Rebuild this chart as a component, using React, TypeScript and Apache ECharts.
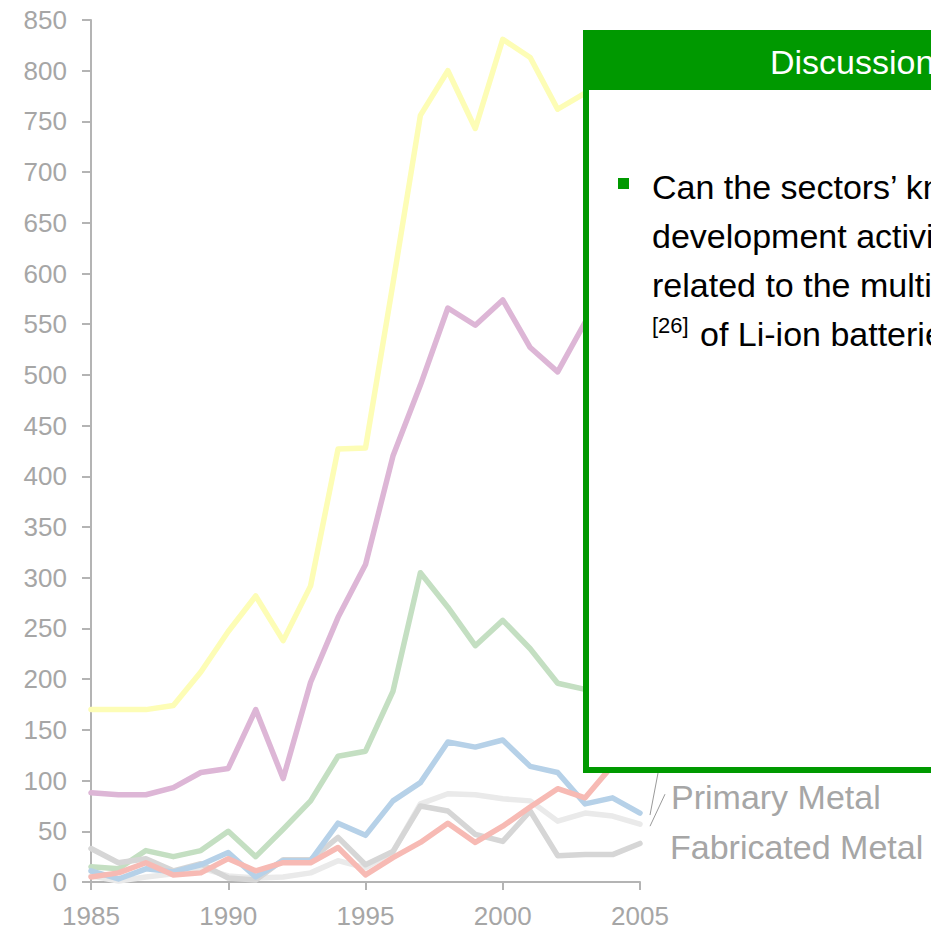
import React, { useEffect, useRef } from "react";
import * as echarts from "echarts";

const years = [1985, 1986, 1987, 1988, 1989, 1990, 1991, 1992, 1993, 1994, 1995, 1996, 1997, 1998, 1999, 2000, 2001, 2002, 2003, 2004, 2005];

// Series values (2004-2005 of the upper series are hidden behind the discussion box; estimated)
const sectorYellow = [170, 170, 170, 174, 207, 247, 282, 238, 292, 427, 428, 590, 756, 800, 743, 831, 813, 762, 778, 800, 790];
const sectorPurple = [88, 86, 86, 93, 108, 112, 170, 102, 197, 261, 313, 420, 490, 566, 549, 574, 527, 503, 552, 600, 590];
const sectorGreen = [15, 13, 31, 25, 31, 50, 25, 52, 80, 124, 129, 188, 305, 271, 233, 258, 230, 196, 190, 185, 180];
const primaryMetal = [6, 1, 5, 8, 14, 6, 4, 5, 9, 21, 14, 30, 77, 87, 86, 82, 80, 60, 68, 65, 57];
const fabricatedMetal = [33, 19, 23, 11, 18, 4, 2, 22, 22, 44, 17, 30, 75, 70, 47, 40, 70, 26, 27, 27, 38];
const sectorBlue = [11, 3, 13, 10, 17, 29, 5, 21, 21, 58, 46, 80, 98, 138, 133, 140, 114, 108, 77, 83, 68];
const sectorRed = [5, 9, 19, 7, 9, 23, 11, 19, 19, 34, 7, 24, 39, 58, 39, 55, 74, 92, 83, 115, 130];

const seriesNames = ["Sector A", "Sector B", "Sector C", "Primary Metal", "Fabricated Metal", "Sector D", "Sector E"];
const seriesValues = [sectorYellow, sectorPurple, sectorGreen, primaryMetal, fabricatedMetal, sectorBlue, sectorRed];
const seriesColors = ["#FDFDB6", "#DDB6D6", "#C4DFC2", "#EAEAEA", "#D6D6D6", "#B6D1E8", "#F7BAB4"];

const endLabels = ["Primary Metal", "Fabricated Metal"];
const discussionTitle = "Discussion";
const discussionLines = ["Can the sectors’ knowledge", "development activities be", "related to the multiple uses"];
const citation = "[26]";
const lastLine = "of Li-ion batteries?";

const FONT = "'Liberation Sans', Arial, sans-serif";
const GREEN = "#009900";
const LABEL_GRAY = "#A6A6A6";

export default function App() {
  const ref = useRef<HTMLDivElement>(null);
  useEffect(() => {
    if (!ref.current) return;
    const chart = echarts.init(ref.current, undefined, { renderer: "svg" });
    const axisLine = { lineStyle: { color: "#B4B4B4", width: 2 } };
    chart.setOption({
      animation: false,
      backgroundColor: "#FFFFFF",
      grid: { left: 91, right: 291, top: 20, bottom: 66 },
      xAxis: {
        type: "value",
        min: 1985,
        max: 2005,
        interval: 5,
        axisLine,
        axisTick: { show: true, length: 8, lineStyle: { color: "#B4B4B4", width: 2 } },
        axisLabel: { color: LABEL_GRAY, fontSize: 26, fontFamily: FONT, margin: 21, formatter: (v: number) => String(v) },
        splitLine: { show: false },
      },
      yAxis: {
        type: "value",
        min: 0,
        max: 850,
        interval: 50,
        axisLine: { show: true, ...axisLine },
        axisTick: { show: true, length: 9, lineStyle: { color: "#B4B4B4", width: 2 } },
        axisLabel: { color: LABEL_GRAY, fontSize: 26, fontFamily: FONT, margin: 24 },
        splitLine: { show: false },
      },
      series: seriesValues.map((vals, i) => ({
        name: seriesNames[i],
        type: "line",
        data: years.map((y, j) => [y, vals[j]]),
        showSymbol: false,
        silent: true,
        z: 2 + i,
        lineStyle: { color: seriesColors[i], width: 5.5, cap: "round", join: "round" },
        itemStyle: { color: seriesColors[i] },
      })),
    });

    const pPrim = chart.convertToPixel({ xAxisIndex: 0, yAxisIndex: 0 }, [2005, primaryMetal[primaryMetal.length - 1]]);
    const pBlue = chart.convertToPixel({ xAxisIndex: 0, yAxisIndex: 0 }, [2005, sectorBlue[sectorBlue.length - 1]]);

    const bodyFont = `34px ${FONT}`;
    const lineY = [187, 236, 285];
    chart.setOption({
      graphic: [
        // leader lines
        {
          type: "line",
          z: 50,
          shape: { x1: pBlue[0] + 10, y1: pBlue[1] + 2, x2: pBlue[0] + 18, y2: pBlue[1] - 40 },
          style: { stroke: "#9A9A9A", lineWidth: 1 },
        },
        {
          type: "line",
          z: 50,
          shape: { x1: pPrim[0] + 10, y1: pPrim[1] + 2, x2: pPrim[0] + 25, y2: pPrim[1] - 30 },
          style: { stroke: "#9A9A9A", lineWidth: 1 },
        },
        {
          type: "text",
          z: 50,
          x: 671,
          y: 797,
          style: { text: endLabels[0], font: `34px ${FONT}`, fill: LABEL_GRAY, verticalAlign: "middle", align: "left" },
        },
        {
          type: "text",
          z: 50,
          x: 670,
          y: 847,
          style: { text: endLabels[1], font: `34px ${FONT}`, fill: LABEL_GRAY, verticalAlign: "middle", align: "left" },
        },
        // discussion box
        {
          type: "rect",
          z: 100,
          shape: { x: 586, y: 33, width: 420, height: 737 },
          style: { fill: "#FFFFFF", stroke: GREEN, lineWidth: 6 },
        },
        {
          type: "rect",
          z: 101,
          shape: { x: 583, y: 30, width: 420, height: 60, r: [3, 0, 0, 0] },
          style: { fill: GREEN },
        },
        {
          type: "text",
          z: 102,
          x: 770,
          y: 62,
          style: { text: discussionTitle, font: bodyFont, fill: "#FFFFFF", verticalAlign: "middle", align: "left" },
        },
        {
          type: "rect",
          z: 102,
          shape: { x: 618, y: 178, width: 11, height: 11 },
          style: { fill: GREEN },
        },
        ...discussionLines.map((t, i) => ({
          type: "text",
          z: 102,
          x: 652,
          y: lineY[i],
          style: { text: t, font: bodyFont, fill: "#000000", verticalAlign: "middle", align: "left" },
        })),
        {
          type: "text",
          z: 102,
          x: 652,
          y: 325,
          style: { text: citation, font: `22px ${FONT}`, fill: "#000000", verticalAlign: "middle", align: "left" },
        },
        {
          type: "text",
          z: 102,
          x: 700,
          y: 334,
          style: { text: lastLine, font: bodyFont, fill: "#000000", verticalAlign: "middle", align: "left" },
        },
      ],
    });
    return () => chart.dispose();
  }, []);
  return <div ref={ref} style={{ position: "absolute", left: 0, top: 0, width: 931, height: 948 }} />;
}
